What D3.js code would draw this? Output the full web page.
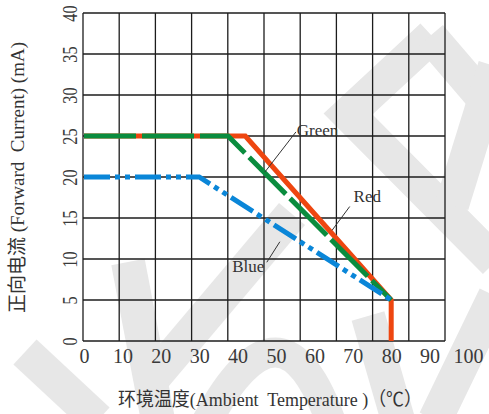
<!DOCTYPE html>
<html lang="zh">
	<head>
		<meta charset="utf-8">
		<title>Forward Current vs Ambient Temperature</title>
		<script src="https://d3js.org/d3.v7.min.js"></script>
		<style>
			body { margin: 0; background: #fff; }
			svg { display: block; }
		</style>
	</head>
	<body>
		<div id="chart"></div>
		<script type="text/javascript">

			//Width and height
			var w = 489;
			var h = 414;

			//Data
			var xTicks = [0, 10, 20, 30, 40, 50, 60, 70, 80, 90, 100];
			var yTicks = [0, 5, 10, 15, 20, 25, 30, 35, 40];

			var redTemp = [0, 42, 80, 80];
			var redCurrent = [25, 25, 5, 0];
			var greenTemp = [0, 37.5, 80];
			var greenCurrent = [25, 25, 5];
			var blueTemp = [0, 30, 80];
			var blueCurrent = [20, 20, 5];

			var seriesNames = ["Red", "Green", "Blue"];
			var seriesColors = ["#ee4610", "#0a8c3e", "#0a86d8"];

			//callouts (same order as seriesNames): label anchor and leader line, in data units
			var labelTemp = [70.2, 55.4, 38.6];
			var labelCurrent = [17.0, 25.0, 8.4];
			var leaderFrom = [[69.2, 16.4], [55.2, 25.5], [51.0, 12.1]];
			var leaderTo = [[64.6, 13.5], [47.1, 20.6], [47.6, 9.6]];

			//Scales
			var x = d3.scaleLinear().domain([0, 100]).range([84, 468]);
			var gridX = d3.scaleLinear().domain([0, 100]).range([83, 445]);
			var y = d3.scaleLinear().domain([0, 40]).range([341, 13]);

			//Create SVG element
			var svg = d3.select("#chart")
						.append("svg")
						.attr("width", w)
						.attr("height", h);

			svg.append("rect")
				.attr("width", w)
				.attr("height", h)
				.style("fill", "#fff");

			//light watermark behind the chart
			var watermark = [
				[[432, 36], [348, 114], [495, 262]],
				[[430, 36], [495, 112]],
				[[495, 66], [452, 205]],
				[[292, 214], [150, 382]],
				[[128, 262], [158, 420]],
				[[25, 352], [98, 420]],
				[[368, 316], [398, 420]],
				[[495, 296], [435, 420]]
			];
			svg.append("g")
				.selectAll("path")
				.data(watermark)
				.enter()
				.append("path")
				.attr("d", d3.line())
				.style("fill", "none")
				.style("stroke", "#e7e7e7")
				.style("stroke-width", 34);
			svg.append("path")
				.attr("d", "M205,425 Q282,280 332,425")
				.style("fill", "none")
				.style("stroke", "#e7e7e7")
				.style("stroke-width", 30);

			//Grid
			var grid = svg.append("g")
				.style("stroke", "#1c1c1c")
				.style("stroke-width", 1.3);

			grid.selectAll(".vline")
				.data(xTicks)
				.enter()
				.append("line")
				.attr("class", "vline")
				.attr("x1", function(d) { return gridX(d); })
				.attr("x2", function(d) { return gridX(d); })
				.attr("y1", y(40))
				.attr("y2", y(0));

			grid.selectAll(".hline")
				.data(yTicks)
				.enter()
				.append("line")
				.attr("class", "hline")
				.attr("x1", gridX(0))
				.attr("x2", gridX(100))
				.attr("y1", function(d) { return y(d); })
				.attr("y2", function(d) { return y(d); });

			//Axes (labels only)
			var xAxis = svg.append("g")
				.attr("transform", "translate(0,363)")
				.call(d3.axisBottom(x).tickValues(xTicks).tickSize(0));
			xAxis.select(".domain").remove();
			xAxis.attr("font-family", "Liberation Serif").attr("font-size", 20);
			xAxis.selectAll("text")
				.attr("y", 0)
				.attr("dy", 0)
				.style("fill", "#3a3a3a");

			var yAxis = svg.append("g")
				.attr("transform", "translate(77,0)")
				.call(d3.axisLeft(y).tickValues(yTicks).tickSize(0));
			yAxis.select(".domain").remove();
			yAxis.attr("font-family", "Liberation Serif").attr("font-size", 20);
			yAxis.selectAll("text")
				.attr("x", 0)
				.attr("dy", 0)
				.attr("transform", "rotate(-90) scale(0.82,1)")
				.style("text-anchor", "middle")
				.style("fill", "#3a3a3a");

			//Axis titles
			svg.append("text")
				.attr("x", 118)
				.attr("y", 406)
				.attr("textLength", 304)
				.attr("lengthAdjust", "spacingAndGlyphs")
				.style("white-space", "pre")
				.style("font-family", "'Liberation Serif', 'Noto Sans CJK SC', serif")
				.style("font-size", "19px")
				.style("fill", "#333")
				.text("环境温度(Ambient  Temperature )（℃）");

			svg.append("text")
				.attr("transform", "translate(24,313) rotate(-90)")
				.attr("textLength", 271)
				.attr("lengthAdjust", "spacingAndGlyphs")
				.style("white-space", "pre")
				.style("font-family", "'Liberation Serif', 'Noto Sans CJK SC', serif")
				.style("font-size", "19px")
				.style("fill", "#333")
				.text("正向电流 (Forward  Current) (mA)");

			//Curves
			var line = d3.line()
				.x(function(d) { return x(d[0]); })
				.y(function(d) { return y(d[1]); });

			var curves = [
				{ name: "Red", pts: d3.zip(redTemp, redCurrent), width: 5, dash: null },
				{ name: "Green", pts: d3.zip(greenTemp, greenCurrent), width: 5, dash: "52,6" },
				{ name: "Blue", pts: d3.zip(blueTemp, blueCurrent), width: 5, dash: "26,5,5,5,5,5" }
			];

			svg.selectAll(".curve")
				.data(curves)
				.enter()
				.append("path")
				.attr("class", "curve")
				.attr("d", function(d) { return line(d.pts); })
				.style("fill", "none")
				.style("stroke", function(d) { return seriesColors[seriesNames.indexOf(d.name)]; })
				.style("stroke-width", function(d) { return d.width; })
				.style("stroke-dasharray", function(d) { return d.dash; })
				.style("stroke-linejoin", "miter");

			//Callouts
			var callouts = svg.append("g");
			callouts.selectAll("line")
				.data(seriesNames)
				.enter()
				.append("line")
				.attr("x1", function(d, i) { return x(leaderFrom[i][0]); })
				.attr("y1", function(d, i) { return y(leaderFrom[i][1]); })
				.attr("x2", function(d, i) { return x(leaderTo[i][0]); })
				.attr("y2", function(d, i) { return y(leaderTo[i][1]); })
				.style("stroke", "#333")
				.style("stroke-width", 1);

			callouts.selectAll("text")
				.data(seriesNames)
				.enter()
				.append("text")
				.attr("x", function(d, i) { return x(labelTemp[i]); })
				.attr("y", function(d, i) { return y(labelCurrent[i]); })
				.style("font-family", "'Liberation Serif', serif")
				.style("font-size", "17px")
				.style("fill", "#333")
				.text(function(d) { return d; });

		</script>
	</body>
</html>
